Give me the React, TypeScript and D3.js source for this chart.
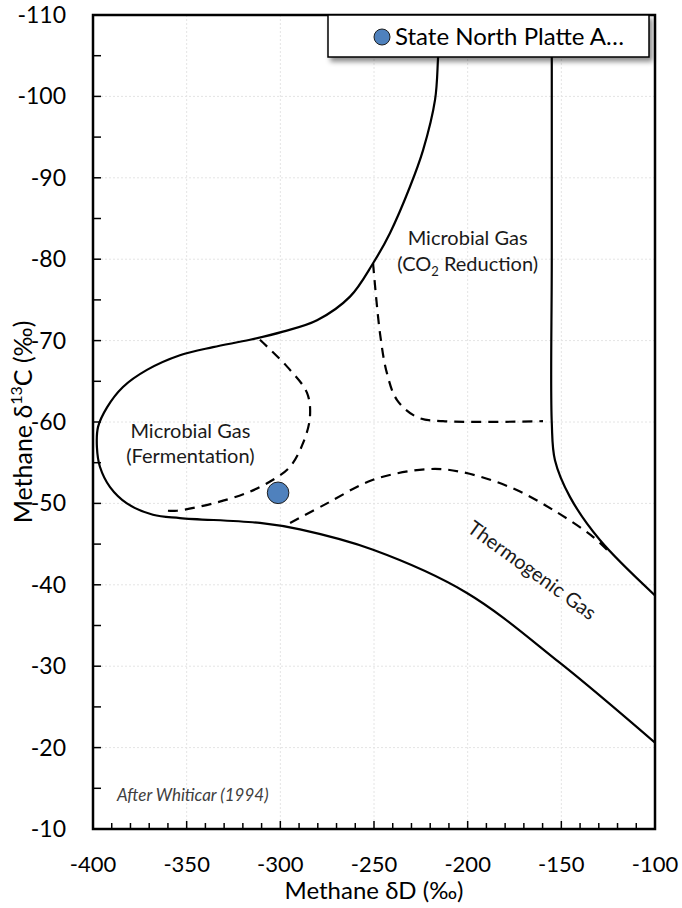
import React, { useEffect, useRef } from "react";
import * as d3 from "d3";

// boundary curves, [δD, δ13C]
const outerBoundary: [number, number][] = [
  [-214.8, -110], [-215.8, -104.8], [-217.4, -99.6], [-223.8, -93.4], [-230.8, -88.9],
  [-241.5, -83.2], [-250.5, -79.5], [-262.8, -75.4], [-280.4, -72.5], [-298.6, -71.1],
  [-316.2, -70.1], [-335.9, -69.2], [-353.6, -68.2], [-371.2, -66.4], [-384.0, -64.3],
  [-392.5, -61.8], [-397.3, -59.4], [-397.9, -56.9], [-396.3, -54.5], [-390.9, -52.0],
  [-381.9, -50.0], [-368.0, -48.6], [-353.6, -48.2], [-310.9, -47.6], [-289.5, -46.8],
  [-250.5, -44.3], [-200.4, -39.0], [-150.7, -30.4], [-100, -20.6],
];

const rightBoundary: [number, number][] = [
  [-155.1, -110], [-155.1, -80], [-155.1, -59.9], [-153.4, -55.3], [-145.4, -50.8],
  [-129.4, -45.5], [-100, -38.7],
];

const co2Line: [number, number][] = [
  [-250.5, -79.5], [-246.8, -70.9], [-243.1, -66.0], [-237.7, -62.7], [-227.0, -60.6],
  [-213.2, -60.1], [-159.8, -60.1],
];

const fermentationLine: [number, number][] = [
  [-310.9, -70.1], [-296.4, -66.8], [-285.8, -63.6], [-284.2, -60.6], [-287.9, -57.4],
  [-294.8, -54.5], [-303.9, -52.9], [-317.8, -51.3], [-335.9, -50.0], [-355.2, -49.1],
  [-360, -49.1],
];

const thermogenicLine: [number, number][] = [
  [-294.8, -47.6], [-275.1, -50.0], [-250.5, -52.9], [-221.7, -54.2], [-204.1, -53.9],
  [-177.4, -52.0], [-154.4, -49.2], [-133.1, -45.9], [-125.6, -44.3],
];

const samples = [{ name: "State North Platte A…", dD: -301.2, d13C: -51.3 }];

const xTicks = [-400, -350, -300, -250, -200, -150, -100];
const yTicks = [-110, -100, -90, -80, -70, -60, -50, -40, -30, -20, -10];

const FONT = "Lato, 'Open Sans', sans-serif";

export default function App() {
  const svgRef = useRef<SVGSVGElement>(null);

  useEffect(() => {
    if (!svgRef.current) return;
    const svg = d3.select(svgRef.current);
    svg.selectAll("*").remove();

    const margin = { top: 15, right: 27, bottom: 79, left: 93 };
    const width = 682;
    const height = 908;
    const innerWidth = width - margin.left - margin.right;
    const innerHeight = height - margin.top - margin.bottom;

    const x = d3.scaleLinear().domain([-400, -100]).range([0, innerWidth]);
    const y = d3.scaleLinear().domain([-110, -10]).range([0, innerHeight]);

    const defs = svg.append("defs");
    const f = defs.append("filter").attr("id", "shadow").attr("x", "-10%").attr("y", "-30%").attr("width", "130%").attr("height", "180%");
    f.append("feDropShadow").attr("dx", 3).attr("dy", 4).attr("stdDeviation", 2.5).attr("flood-color", "#000").attr("flood-opacity", 0.45);

    const g = svg.append("g").attr("transform", `translate(${margin.left},${margin.top})`);

    // grid
    g.append("g")
      .selectAll("line")
      .data(xTicks.slice(1, -1))
      .enter()
      .append("line")
      .attr("x1", (d) => x(d)).attr("x2", (d) => x(d))
      .attr("y1", 0).attr("y2", innerHeight)
      .attr("stroke", "#e4e4e4").attr("stroke-dasharray", "2,2");
    g.append("g")
      .selectAll("line")
      .data(yTicks.slice(1, -1))
      .enter()
      .append("line")
      .attr("y1", (d) => y(d)).attr("y2", (d) => y(d))
      .attr("x1", 0).attr("x2", innerWidth)
      .attr("stroke", "#e4e4e4").attr("stroke-dasharray", "2,2");

    // minor + major ticks (pointing inward)
    const xMinor = d3.range(-400, -99, 10);
    g.append("g")
      .selectAll("line")
      .data(xMinor)
      .enter()
      .append("line")
      .attr("x1", (d) => x(d)).attr("x2", (d) => x(d))
      .attr("y1", innerHeight).attr("y2", (d) => innerHeight - (d % 50 === 0 ? 8 : 6))
      .attr("stroke", "#000").attr("stroke-width", 1.5);
    const yMinor = d3.range(-110, -9, 5);
    g.append("g")
      .selectAll("line")
      .data(yMinor)
      .enter()
      .append("line")
      .attr("y1", (d) => y(d)).attr("y2", (d) => y(d))
      .attr("x1", 0).attr("x2", 8)
      .attr("stroke", "#000").attr("stroke-width", 1.5);

    // tick labels
    g.append("g")
      .selectAll("text")
      .data(yTicks)
      .enter()
      .append("text")
      .attr("x", -27)
      .attr("y", (d) => y(d) + 8)
      .attr("text-anchor", "end")
      .attr("font-family", FONT)
      .attr("font-size", 23)
      .text((d) => d);
    g.append("g")
      .selectAll("text")
      .data(xTicks)
      .enter()
      .append("text")
      .attr("x", (d) => x(d))
      .attr("y", innerHeight + 43)
      .attr("text-anchor", "middle")
      .attr("font-family", FONT)
      .attr("font-size", 22)
      .text((d) => d);

    // curves
    const line = d3
      .line<[number, number]>()
      .x((d) => x(d[0]))
      .y((d) => y(d[1]))
      .curve(d3.curveCatmullRom.alpha(0.5));

    const plot = g.append("g");
    plot.append("clipPath").attr("id", "clip").append("rect").attr("width", innerWidth).attr("height", innerHeight);
    const curves = plot.append("g").attr("clip-path", "url(#clip)");

    [outerBoundary, rightBoundary].forEach((d) =>
      curves.append("path").attr("d", line(d)).attr("fill", "none").attr("stroke", "#000").attr("stroke-width", 2.2)
    );
    [co2Line, fermentationLine, thermogenicLine].forEach((d) =>
      curves
        .append("path")
        .attr("d", line(d))
        .attr("fill", "none")
        .attr("stroke", "#000")
        .attr("stroke-width", 2.2)
        .attr("stroke-dasharray", "10,7")
    );

    // region labels
    const LS = 20;
    const label = (lines: string[], cx: number, cy: number) => {
      lines.forEach((t, i) => {
        g.append("text")
          .attr("x", x(cx))
          .attr("y", y(cy) + i * 25)
          .attr("text-anchor", "middle")
          .attr("font-family", FONT)
          .attr("font-size", LS)
          .attr("fill", "#1a1a1a")
          .text(t);
      });
    };
    label(["Microbial Gas"], -200, -81.7);
    const co2 = g.append("text")
      .attr("x", x(-200))
      .attr("y", y(-81.7) + 26)
      .attr("text-anchor", "middle")
      .attr("font-family", FONT)
      .attr("font-size", LS)
      .attr("fill", "#1a1a1a");
    co2.append("tspan").text("(CO");
    co2.append("tspan").attr("font-size", 13).attr("dy", 5).text("2");
    co2.append("tspan").attr("dy", -5).text(" Reduction)");
    label(["Microbial Gas", "(Fermentation)"], -348, -58.0);

    g.append("text")
      .attr("transform", `translate(${x(-167.8)},${y(-41.1)}) rotate(36)`)
      .attr("text-anchor", "middle")
      .attr("font-family", FONT)
      .attr("font-size", 20)
      .attr("fill", "#1a1a1a")
      .text("Thermogenic Gas");

    g.append("text")
      .attr("x", 24)
      .attr("y", y(-13.4))
      .attr("font-family", FONT)
      .attr("font-style", "italic")
      .attr("font-size", 17)
      .attr("fill", "#404040")
      .text("After Whiticar (1994)");

    // samples
    g.append("g")
      .selectAll("circle")
      .data(samples)
      .enter()
      .append("circle")
      .attr("cx", (d) => x(d.dD))
      .attr("cy", (d) => y(d.d13C))
      .attr("r", 10.8)
      .attr("fill", "#4f81bd")
      .attr("stroke", "#1f1f1f")
      .attr("stroke-width", 1);

    // frame
    g.append("rect")
      .attr("width", innerWidth)
      .attr("height", innerHeight)
      .attr("fill", "none")
      .attr("stroke", "#000")
      .attr("stroke-width", 2.5);

    // legend
    const legend = svg.append("g").attr("transform", "translate(328,15)");
    legend.append("rect").attr("width", 321).attr("height", 42).attr("fill", "#fff").attr("stroke", "#000").attr("stroke-width", 1.5).attr("filter", "url(#shadow)");
    legend.append("circle").attr("cx", 54).attr("cy", 22).attr("r", 8).attr("fill", "#4f81bd").attr("stroke", "#1f1f1f").attr("stroke-width", 1);
    legend.append("text").attr("x", 67).attr("y", 30).attr("font-family", FONT).attr("font-size", 24).text(samples[0].name);

    // axis titles
    svg.append("text")
      .attr("x", margin.left + innerWidth / 2)
      .attr("y", 899)
      .attr("text-anchor", "middle")
      .attr("font-family", FONT)
      .attr("font-size", 24)
      .text("Methane δD (‰)");

    const yt = svg.append("text")
      .attr("transform", `translate(32,${margin.top + y(-60)}) rotate(-90)`)
      .attr("text-anchor", "middle")
      .attr("font-family", FONT)
      .attr("font-size", 25);
    yt.append("tspan").text("Methane δ");
    yt.append("tspan").attr("font-size", 16).attr("dy", -10).text("13");
    yt.append("tspan").attr("dy", 10).text("C (‰)");
  }, []);

  return (
    <div style={{ position: "absolute", left: 0, top: 0 }}>
      <svg ref={svgRef} width={682} height={908} style={{ display: "block", background: "#fff" }} />
    </div>
  );
}
